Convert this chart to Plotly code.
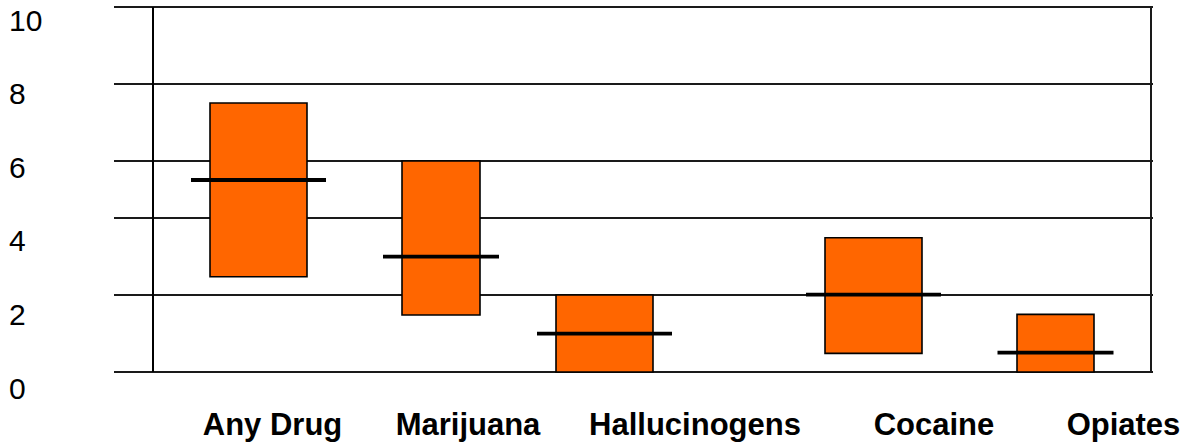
import plotly.graph_objects as go

# ---------------- data ----------------
categories = ["Any Drug", "Marijuana", "Hallucinogens", "Cocaine", "Opiates"]
low_values = [2.61, 1.56, 0.0, 0.51, 0.0]
high_values = [7.37, 5.78, 2.11, 3.68, 1.58]
median_values = [5.26, 3.16, 1.05, 2.12, 0.53]
y_tick_labels = ["0", "2", "4", "6", "8", "10"]

# ---------------- layout constants (positions / sizes in pixels) ----------------
W, H = 1188, 444
box_centers = [258.5, 441, 604.5, 873.5, 1055.5]
box_widths = [97, 78, 97, 97, 77]
median_widths = [135, 116, 135, 135, 116]
label_centers = [272.5, 468, 695, 934, 1123.5]
grid_px = [372, 295, 218, 161, 84, 7]        # pixel rows of the grid lines

X_LEFT, X_RIGHT = 114, 1152.5
TOP_PX, BOT_PX = 5, 398
K1, ZERO1 = 36.5, 372       # data axis: px per unit, pixel of value 0
K2, ZERO2 = 36.8, 388       # label axis

def px_to_val(p, k, z):
    return (z - p) / k

y_range = [px_to_val(BOT_PX, K1, ZERO1), px_to_val(TOP_PX, K1, ZERO1)]
y2_range = [px_to_val(BOT_PX, K2, ZERO2), px_to_val(TOP_PX, K2, ZERO2)]
grid_vals = [px_to_val(p, K1, ZERO1) for p in grid_px]

fig = go.Figure()

fig.add_trace(go.Bar(
    x=box_centers,
    y=[h - l for h, l in zip(high_values, low_values)],
    base=low_values,
    width=box_widths,
    marker=dict(color="#FF6600", line=dict(color="#000000", width=1.6)),
    showlegend=False,
    hoverinfo="skip",
))

mx, my = [], []
for c, w, m in zip(box_centers, median_widths, median_values):
    mx += [c - w / 2, c + w / 2, None]
    my += [m, m, None]
fig.add_trace(go.Scatter(x=mx, y=my, mode="lines",
                         line=dict(color="#000000", width=3.8),
                         showlegend=False, hoverinfo="skip"))

# invisible trace to carry the label axis
fig.add_trace(go.Scatter(x=[None], y=[None], yaxis="y2", mode="markers",
                         showlegend=False, hoverinfo="skip"))

# frame lines
top_val = px_to_val(7, K1, ZERO1)
fig.add_shape(type="line", xref="x", yref="y", x0=153, x1=153, y0=0, y1=top_val,
              line=dict(color="#000000", width=2))
fig.add_shape(type="line", xref="x", yref="y", x0=1151, x1=1151, y0=0, y1=top_val,
              line=dict(color="#1a1a1a", width=2))

fig.update_layout(
    width=W, height=H,
    margin=dict(l=0, r=0, t=0, b=0, pad=0, autoexpand=False),
    paper_bgcolor="white", plot_bgcolor="white",
    bargap=0,
    font=dict(family="Liberation Sans, Arial, sans-serif", color="#000000"),
    xaxis=dict(
        domain=[X_LEFT / W, X_RIGHT / W],
        range=[X_LEFT, X_RIGHT],
        tickvals=label_centers, ticktext=categories,
        tickfont=dict(size=31, weight="bold", color="#000000"),
        ticklabelstandoff=5,
        showgrid=False, zeroline=False, showline=False, ticks="",
        automargin=False,
    ),
    yaxis=dict(
        domain=[(H - BOT_PX) / H, (H - TOP_PX) / H],
        range=y_range,
        tickvals=grid_vals, showticklabels=False,
        showgrid=True, gridcolor="#1a1a1a", gridwidth=1.8,
        zeroline=False, showline=False, ticks="",
        automargin=False,
    ),
    yaxis2=dict(
        overlaying="y", anchor="free", position=8 / W, side="right",
        range=y2_range,
        tickvals=[0, 2, 4, 6, 8, 10], ticktext=y_tick_labels,
        tickfont=dict(size=30, color="#000000"),
        showgrid=False, zeroline=False, showline=False, ticks="",
        automargin=False,
    ),
)

fig.write_html(
    "out.html",
    config={"displayModeBar": False, "staticPlot": True},
    post_script="document.body.style.margin='0';document.body.style.overflow='hidden';",
)
